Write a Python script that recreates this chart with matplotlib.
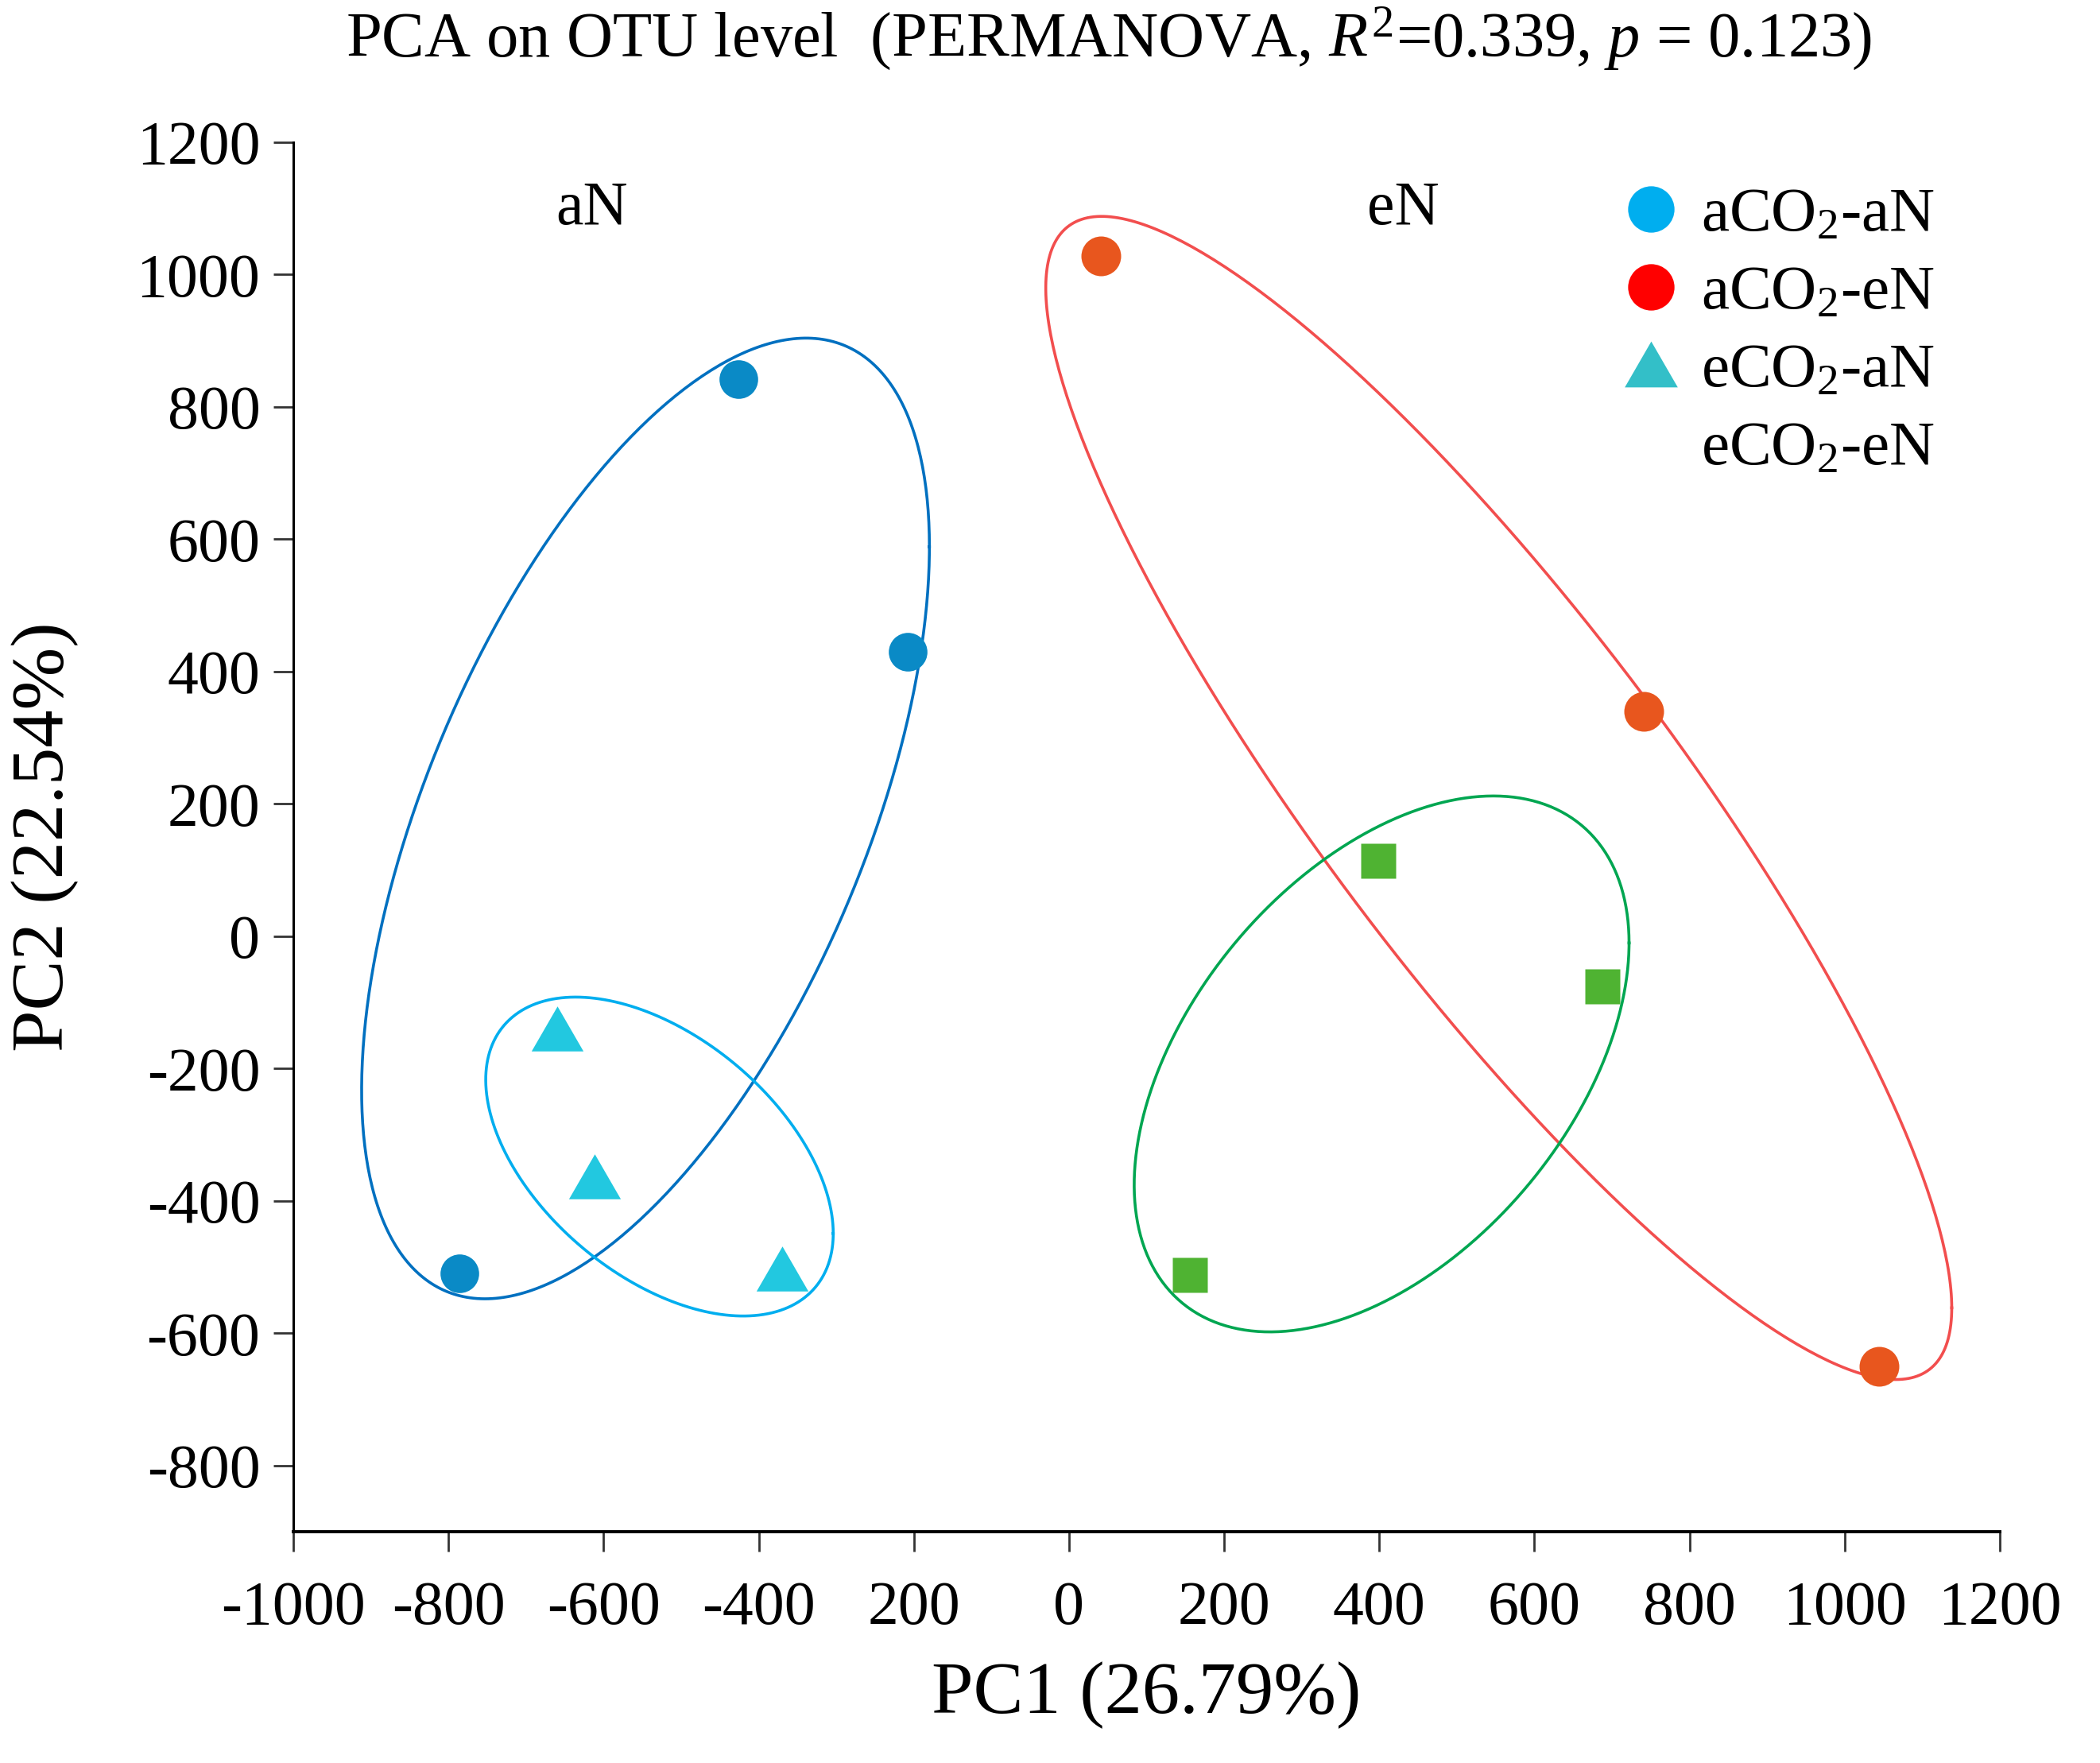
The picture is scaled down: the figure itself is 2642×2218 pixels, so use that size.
import numpy as np
import matplotlib
matplotlib.use("Agg")
import matplotlib.pyplot as plt
from matplotlib.lines import Line2D

plt.rcParams['font.family'] = ['Liberation Serif', 'DejaVu Serif']
plt.rcParams['mathtext.fontset'] = 'custom'
plt.rcParams['mathtext.rm'] = 'Liberation Serif'
plt.rcParams['mathtext.it'] = 'Liberation Serif:italic'
plt.rcParams['axes.unicode_minus'] = False

# sample scores on PC1 / PC2
groups = ['aCO$_2$-aN', 'aCO$_2$-eN', 'eCO$_2$-aN', 'eCO$_2$-eN']
pc1_a_aN = [-786, -426, -208]
pc2_a_aN = [-509, 842, 430]
pc1_a_eN = [41, 741, 1044]
pc2_a_eN = [1028, 340, -650]
pc1_e_aN = [-660, -612, -370]
pc2_e_aN = [-140, -363, -502]
pc1_e_eN = [399, 688, 156]
pc2_e_eN = [114, -76, -512]

# group ellipses: centre, half width, half height, x offset of top point
ell_cx = [-546, 554, -528, 403]
ell_cy = [178, 209, -333, -193]
ell_hw = [366, 584, 224, 319]
ell_hh = [726, 879, 241, 405]
ell_tx = [207, -512, -108, 144]

xticks = [-1000, -800, -600, -400, -200, 0, 200, 400, 600, 800, 1000, 1200]
xticklabels = ['-1000', '-800', '-600', '-400', '200', '0', '200', '400',
               '600', '800', '1000', '1200']
yticks = [-800, -600, -400, -200, 0, 200, 400, 600, 800, 1000, 1200]

point_colors = ['#0a8ac6', '#e8561e', '#22c8e0', '#4fb332']
ell_colors = ['#0070c0', '#f24e4e', '#00aeef', '#00a651']
legend_colors = ['#00aeef', '#ff0000', '#33bfc8']

# equilateral triangle marker
tri = [(-1, -0.866), (1, -0.866), (0, 0.866), (-1, -0.866)]


def draw_ellipse(ax, cx, cy, hw, hh, tx, color):
    m = np.array([[hw ** 2, tx * hh], [tx * hh, hh ** 2]])
    l = np.linalg.cholesky(m)
    t = np.linspace(0, 2 * np.pi, 400)
    pts = l @ np.vstack([np.cos(t), np.sin(t)])
    ax.plot(cx + pts[0], cy + pts[1], color=color, lw=1.3, zorder=2)


fig = plt.figure(figsize=(13.21, 11.09), dpi=200)
ax = fig.add_axes([0.1397, 0.1312, 0.8126, 0.7881])

for i in range(4):
    draw_ellipse(ax, ell_cx[i], ell_cy[i], ell_hw[i], ell_hh[i], ell_tx[i], ell_colors[i])

ax.plot(pc1_a_aN, pc2_a_aN, 'o', ms=17.5, color=point_colors[0], mec='none', zorder=3)
ax.plot(pc1_a_eN, pc2_a_eN, 'o', ms=18, color=point_colors[1], mec='none', zorder=3)
ax.plot(pc1_e_aN, pc2_e_aN, marker=tri, ls='none', ms=23.5, color=point_colors[2], mec='none', zorder=3)
ax.plot(pc1_e_eN, pc2_e_eN, 's', ms=15.5, color=point_colors[3], mec='none', zorder=3)

ax.text(-615, 1099, 'aN', ha='center', va='center', fontsize=28)
ax.text(431, 1099, 'eN', ha='center', va='center', fontsize=28)

ax.set_xlim(-1000, 1200)
ax.set_ylim(-900, 1200)
ax.set_xticks(xticks)
ax.set_xticklabels(xticklabels)
ax.set_yticks(yticks)

for side in ['top', 'right']:
    ax.spines[side].set_visible(False)
ax.spines['left'].set_linewidth(1.1)
ax.spines['bottom'].set_linewidth(1.4)
ax.tick_params(axis='both', direction='out', length=9, width=1.0,
               labelsize=28, color='#333333')
ax.tick_params(axis='x', pad=13)
ax.tick_params(axis='y', pad=6)

ax.set_xlabel('PC1 (26.79%)', fontsize=34, labelpad=11)
ax.set_ylabel('PC2 (22.54%)', fontsize=34, labelpad=26)

fig.text(0.528, 0.9675, 'PCA on OTU level  (PERMANOVA, $R^2$=0.339, $p$ = 0.123)',
         ha='center', va='baseline', fontsize=29)

handles = [
    Line2D([], [], ls='none', marker='o', ms=21, color=legend_colors[0], mec='none'),
    Line2D([], [], ls='none', marker='o', ms=21, color=legend_colors[1], mec='none'),
    Line2D([], [], ls='none', marker=tri, ms=24, color=legend_colors[2], mec='none'),
    Line2D([], [], ls='none', marker=None),
]
ax.legend(handles, groups, loc='upper left', bbox_to_anchor=(0.771, 0.894),
          bbox_transform=fig.transFigure, frameon=False, fontsize=28.5,
          handlelength=1.0, handletextpad=0.3, labelspacing=0.32,
          borderpad=0, borderaxespad=0)

fig.savefig('out.png', dpi=200)
